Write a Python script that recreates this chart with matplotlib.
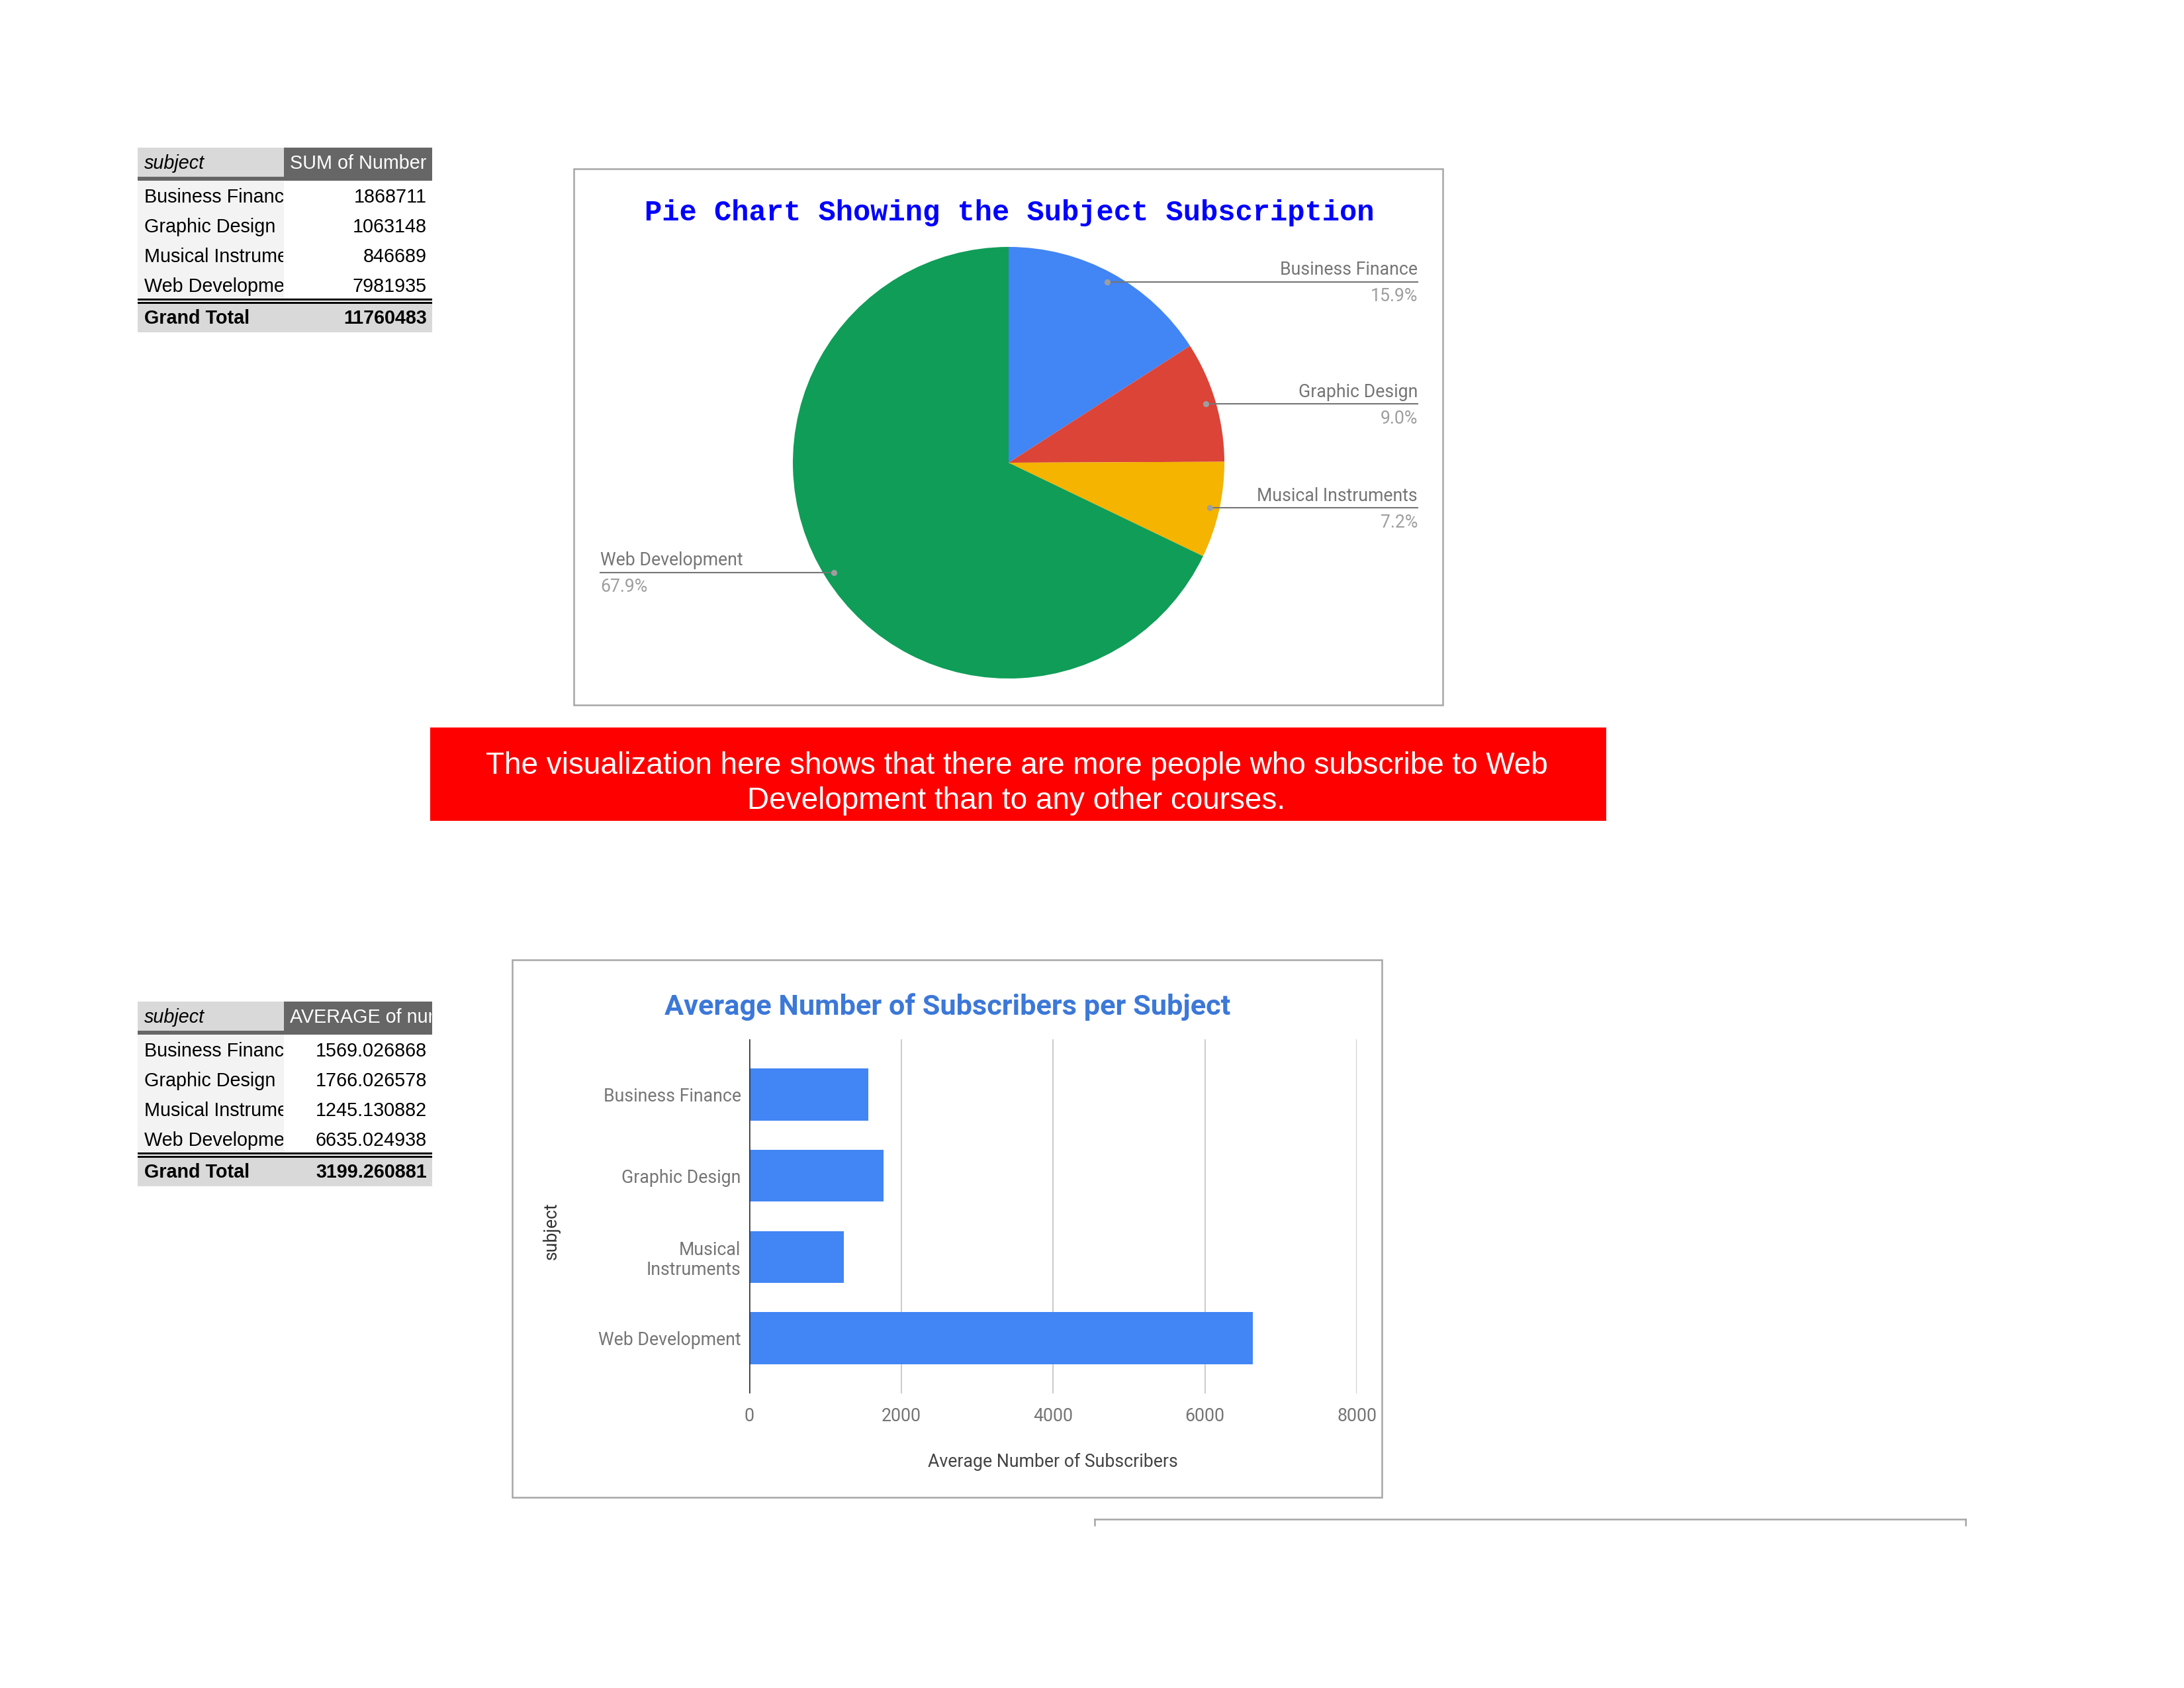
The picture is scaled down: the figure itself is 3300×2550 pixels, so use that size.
import matplotlib
matplotlib.use("Agg")
import matplotlib.pyplot as plt
from matplotlib.patches import Rectangle
import numpy as np

# ---------------- data ----------------
subjects = ["Business Finance", "Graphic Design", "Musical Instruments", "Web Development"]
sum_subscribers = [1868711, 1063148, 846689, 7981935]
sum_total = 11760483
avg_subscribers = [1569.026868, 1766.026578, 1245.130882, 6635.024938]
avg_total = 3199.260881
bar_labels = ["Business Finance", "Graphic Design", "Musical\nInstruments", "Web Development"]
x_ticks = [0, 2000, 4000, 6000, 8000]
pie_colors = ["#4285f4", "#db4437", "#f4b400", "#0f9d58"]
bar_color = "#4285f4"
pie_title = "Pie Chart Showing the Subject Subscription"
bar_title = "Average Number of Subscribers per Subject"
note_lines = ["The visualization here shows that there are more people who subscribe to Web",
              "Development than to any other courses."]

plt.rcParams["font.family"] = ["Roboto", "DejaVu Sans"]

W, H = 3300, 2550
fig = plt.figure(figsize=(11, 8.5), dpi=300)
page = fig.add_axes([0, 0, 1, 1])
page.set_xlim(0, W)
page.set_ylim(H, 0)
page.axis("off")


def fig_rect(x0, y0, x1, y1):
    return [x0 / W, 1 - y1 / H, (x1 - x0) / W, (y1 - y0) / H]


def rect(x0, y0, x1, y1, **kw):
    r = Rectangle((x0, y0), x1 - x0, y1 - y0, **kw)
    page.add_patch(r)
    return r


def clipped_text(x, y, s, box, **kw):
    t = page.text(x, y, s, **kw)
    x0, y0, x1, y1 = box
    t.set_clip_path(Rectangle((x0, y0), x1 - x0, y1 - y0, transform=page.transData))
    t.set_clip_on(True)
    return t


# ---------------- pivot tables ----------------
def draw_table(y0, head2, values, total):
    x0, xm, x1 = 208, 429, 653
    tf = dict(family=["Liberation Sans", "DejaVu Sans"], fontsize=6.9, va="center")
    rect(x0, y0, xm, y0 + 44, color="#d9d9d9", lw=0)
    rect(xm, y0, x1, y0 + 50, color="#666666", lw=0)
    rect(x0, y0 + 44, x1, y0 + 50, color="#666666", lw=0)
    clipped_text(x0 + 10, y0 + 24, "subject", (x0, y0, xm - 1, y0 + 50),
                 style="italic", color="black", **tf)
    clipped_text(xm + 9, y0 + 24, head2, (xm, y0, x1 - 1, y0 + 50), color="white", **tf)
    rh = 44.75
    rect(x0, y0 + 50, xm, y0 + 50 + 4 * rh, color="#f3f3f3", lw=0)
    for i, (s, v) in enumerate(zip(subjects, values)):
        yc = y0 + 53 + rh * (i + 0.5)
        clipped_text(x0 + 10, yc, s, (x0, y0, xm - 1, y0 + 300), color="black", **tf)
        clipped_text(x1 - 8, yc, v, (xm, y0, x1, y0 + 300), color="black", ha="right", **tf)
    rect(x0, y0 + 228, x1, y0 + 230.5, color="black", lw=0)
    rect(x0, y0 + 233, x1, y0 + 235.5, color="black", lw=0)
    rect(x0, y0 + 235.5, x1, y0 + 279, color="#d9d9d9", lw=0)
    page.text(x0 + 10, y0 + 258, "Grand Total", weight="bold", color="black", **tf)
    page.text(x1 - 8, y0 + 258, total, weight="bold", color="black", ha="right", **tf)


draw_table(223, "SUM of Number of Subscribers", [str(v) for v in sum_subscribers], str(sum_total))
draw_table(1513, "AVERAGE of num_subscribers", [f"{v:.6f}" for v in avg_subscribers], f"{avg_total:.6f}")

# ---------------- pie chart ----------------
rect(867, 255, 2180, 1065, fill=False, ec="#a6a6a6", lw=0.6)
page.text(1525, 322, pie_title, family=["Liberation Mono", "DejaVu Sans Mono"],
          weight="bold", fontsize=10.5, color="#0000ff", ha="center", va="center")

pax = fig.add_axes(fig_rect(1198, 373, 1850, 1025))
pax.pie(sum_subscribers, colors=pie_colors, startangle=90, counterclock=False,
        wedgeprops=dict(linewidth=0))
pax.set_xlim(-1, 1)
pax.set_ylim(-1, 1)
pax.set_aspect("equal")
pax.axis("off")

vals = np.array(sum_subscribers, dtype=float)
fracs = vals / vals.sum()
cum = np.concatenate([[0], np.cumsum(fracs)[:-1]])
for name, f, c0 in zip(subjects, fracs, cum):
    theta = np.deg2rad(90 - 360 * (c0 + f / 2))
    dx, dy = 0.955 * np.cos(theta), 0.955 * np.sin(theta)
    if dx > 0:
        xe, ha = 1.896, "right"
    else:
        xe, ha = -1.893, "left"
    pax.plot([dx, xe], [dy, dy], color="#757575", lw=0.5, clip_on=False, zorder=3)
    pax.plot([dx], [dy], "o", color="#9e9e9e", ms=2.2, mew=0, clip_on=False, zorder=4)
    pax.annotate(name, (xe, dy), xytext=(0, 4.3), textcoords="offset points",
                 ha=ha, va="center", fontsize=6.4, color="#757575", annotation_clip=False)
    pax.annotate(f"{f * 100:.1f}%", (xe, dy), xytext=(0, -5.3), textcoords="offset points",
                 ha=ha, va="center", fontsize=6.4, color="#9e9e9e", annotation_clip=False)

# ---------------- red note box ----------------
rect(650, 1099, 2427, 1240, color="#ff0000", lw=0)
for i, line in enumerate(note_lines):
    page.text(1536, 1157 + 53 * i, line, family=["Liberation Sans", "DejaVu Sans"],
              fontsize=11, color="white", ha="center", va="center")

# ---------------- bar chart ----------------
rect(774, 1450, 2088, 2262, fill=False, ec="#a6a6a6", lw=0.6)
page.text(1432, 1521, bar_title, weight="bold", fontsize=10.4, color="#3c78d8",
          ha="center", va="center")

bax = fig.add_axes(fig_rect(1132, 1570, 2050, 2105))
ypos = np.arange(len(subjects))
bax.barh(ypos, avg_subscribers, height=0.64, color=bar_color, zorder=3)
bax.set_xlim(0, 8000)
bax.set_ylim(3.68, -0.68)
bax.set_xticks(x_ticks)
bax.set_xticklabels([str(t) for t in x_ticks])
bax.set_yticks(ypos)
bax.set_yticklabels(bar_labels, linespacing=1.15)
bax.tick_params(axis="both", length=0, labelsize=6.4, labelcolor="#757575")
bax.tick_params(axis="x", pad=5)
bax.tick_params(axis="y", pad=3)
bax.grid(axis="x", color="#cccccc", lw=0.5, zorder=0)
for s in bax.spines.values():
    s.set_visible(False)
bax.axvline(0, color="#333333", lw=0.6, zorder=4)
bax.set_xlabel("Average Number of Subscribers", fontsize=6.4, color="#444444")
bax.xaxis.set_label_coords(0.5, -0.1925)
bax.xaxis.label.set_va("center")
bax.set_ylabel("subject", fontsize=6.4, color="#333333")
bax.yaxis.set_label_coords(-0.3257, 0.458)
bax.yaxis.label.set_va("center")

# ---------------- next (cut-off) chart frame ----------------
page.plot([1654, 2970], [2295, 2295], color="#a6a6a6", lw=0.6)
page.plot([1654, 1654], [2295, 2304], color="#a6a6a6", lw=0.6)
page.plot([2970, 2970], [2295, 2304], color="#a6a6a6", lw=0.6)

fig.savefig("out.png", dpi=300, facecolor="white")
